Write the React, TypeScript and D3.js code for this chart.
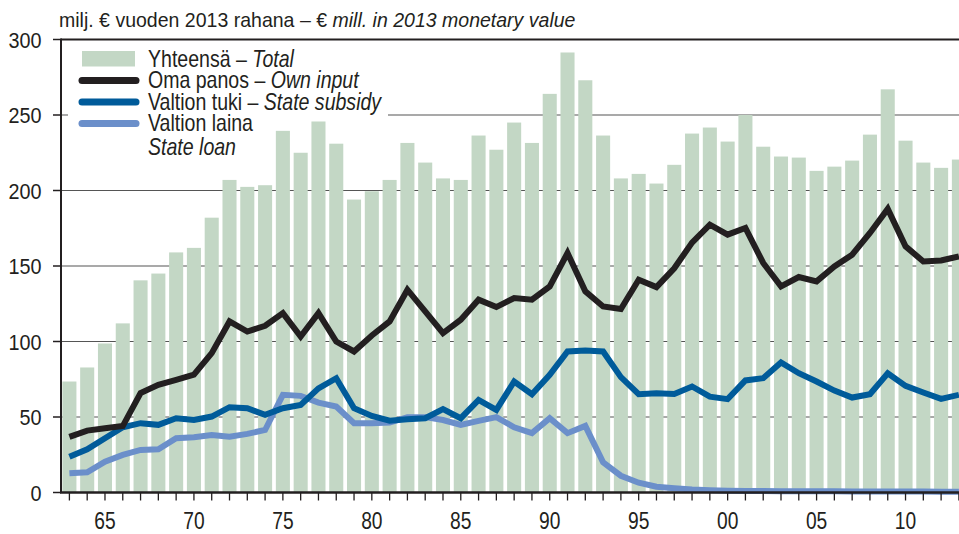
import React from 'react'
import * as d3 from 'd3'

const width = 959
const height = 534

const years = d3.range(1963, 2014)

const total = [
  73.5, 82.8, 98.7, 112, 140.5, 145, 159, 162, 182, 207,
  202.4, 203.5, 239.5, 225, 245.7, 231, 194, 199.5, 207, 231.5,
  218.5, 208, 207, 236.4, 227, 245, 231.5, 264, 291.4, 273,
  236.4, 208, 211, 204.6, 217, 237.7, 241.7, 232.4, 250, 229,
  222.5, 221.8, 213, 215.8, 219.8, 237, 267, 233, 218.5, 215, 220.5
]

const ownInput = [
  36.8, 41, 42.5, 44, 65.8, 71.3, 74.6, 78, 92.3, 113.3,
  106.6, 110.4, 118.8, 103.3, 118.8, 100, 93.4, 104, 113.3, 134.3,
  120, 105.6, 114.4, 127.7, 122.8, 128.8, 127.7, 136.5, 158.6, 133.2,
  123.2, 121.5, 140.9, 136, 148.5, 165.5, 177.4, 170.8, 175.2, 152,
  136.5, 142.7, 139.8, 149.7, 157.5, 171.9, 187.8, 163, 153, 153.7, 156.4
]

const subsidy = [
  23.7, 28.6, 35.9, 43.2, 45.9, 44.8, 49.2, 48, 50.3, 56.5,
  55.8, 51.4, 55.8, 58, 69, 75.7, 55.8, 50.7, 47.6, 48.5,
  49.2, 55.2, 49.2, 61.3, 54.7, 73.5, 65.1, 77.9, 93.4, 94,
  93.4, 76.4, 65.1, 65.8, 65.3, 70.2, 63.5, 61.8, 74.2, 75.7,
  86.1, 79, 73.5, 67.5, 62.9, 65.1, 79, 70.6, 66.2, 62, 64.7
]

const loan = [
  12.7, 13.4, 20.4, 24.9, 28.2, 28.6, 35.9, 36.6, 38.1, 37,
  38.8, 41.4, 64.7, 64, 59.5, 56.9, 45.9, 45.9, 46.3, 49.9,
  49.9, 48, 44.8, 47.4, 49.9, 43.2, 39.3, 49.2, 39.3, 44.1,
  20, 11.1, 6.5, 3.8, 2.8, 2, 1.5, 1.2, 1, 1,
  0.9, 0.9, 0.8, 0.8, 0.7, 0.7, 0.6, 0.6, 0.6, 0.5, 0.5
]

const yTicks = [0, 50, 100, 150, 200, 250, 300]
const xTickYears = [1965, 1970, 1975, 1980, 1985, 1990, 1995, 2000, 2005, 2010]

const colors = {
  bar: '#c3d7c5',
  own: '#231f20',
  subsidy: '#005b9a',
  loan: '#6b8fca',
  axis: '#231f20',
  grid: '#555555',
  text: '#231f20'
}

const font = '"Liberation Sans", Arial, sans-serif'

// narrow-looking text: regular font squeezed horizontally
const NText = ({ x, y, sx, size, anchor = 'start', italic = false, children }: any) => (
  <text transform={`translate(${x},${y}) scale(${sx},1)`} textAnchor={anchor} fontSize={size}
    fill={colors.text} fontStyle={italic ? 'italic' : 'normal'}>
    {children}
  </text>
)

const App = () => {
  const left = 61
  const x = d3.scaleLinear().domain([1963, 2013]).range([69.4, 958.9])
  const y = d3.scaleLinear().domain([0, 300]).range([492.5, 39.5])
  const step = x(1964) - x(1963)
  const barW = step * 0.79

  const line = (vals: number[]) =>
    d3.line<number>()
      .x((d, i) => x(years[i]))
      .y(d => y(d))(vals) || ''

  const series = [
    { vals: loan, color: colors.loan },
    { vals: subsidy, color: colors.subsidy },
    { vals: ownInput, color: colors.own }
  ]

  const legend = [
    { kind: 'bar', color: colors.bar, a: 'Yhteensä – ', b: 'Total' },
    { kind: 'line', color: colors.own, a: 'Oma panos – ', b: 'Own input' },
    { kind: 'line', color: colors.subsidy, a: 'Valtion tuki – ', b: 'State subsidy' },
    { kind: 'line', color: colors.loan, a: 'Valtion laina', b: '' }
  ]

  return (
    <svg width={width} height={height} style={{ position: 'absolute', left: 0, top: 0, background: '#fff' }}
      fontFamily={font}>
      <NText x={59} y={27} sx={0.93} size={21}>
        milj. € vuoden 2013 rahana – € <tspan fontStyle="italic">mill. in 2013 monetary value</tspan>
      </NText>

      {/* gridlines */}
      {yTicks.filter(t => t > 0 && t < 300).map(t =>
        <line key={t} x1={left} x2={width} y1={y(t)} y2={y(t)} stroke={colors.grid} strokeWidth={1.2} />
      )}

      {/* legend background */}
      <rect x={68} y={44} width={320} height={126} fill="#fff" />

      {/* bars */}
      {total.map((v, i) =>
        <rect key={i} x={x(years[i]) - barW / 2} y={y(v)} width={barW} height={y(0) - y(v)} fill={colors.bar} />
      )}

      {/* lines */}
      {series.map((s, i) =>
        <path key={i} d={line(s.vals)} fill="none" stroke={s.color} strokeWidth={6} />
      )}

      {/* axes */}
      <line x1={left} x2={width} y1={y(300)} y2={y(300)} stroke={colors.axis} strokeWidth={2} />
      <line x1={left} x2={left} y1={y(300) - 1} y2={y(0)} stroke={colors.axis} strokeWidth={2} />
      <line x1={left - 1} x2={width} y1={y(0)} y2={y(0)} stroke={colors.axis} strokeWidth={2.5} />
      {yTicks.map(t =>
        <g key={t}>
          <line x1={left - 8} x2={left} y1={y(t)} y2={y(t)} stroke={colors.axis} strokeWidth={1.5} />
          <NText x={41.5} y={y(t) + 8} sx={0.88} size={22.5} anchor="end">{t}</NText>
        </g>
      )}
      {years.map(yr =>
        <line key={yr} x1={x(yr)} x2={x(yr)} y1={y(0)} y2={y(0) + 8} stroke={colors.axis} strokeWidth={1.3} />
      )}
      {xTickYears.map(yr =>
        <NText key={yr} x={x(yr)} y={528.8} sx={0.8} size={24} anchor="middle">
          {String(yr % 100).padStart(2, '0')}
        </NText>
      )}

      {/* legend */}
      {legend.map((l, i) => {
        const base = 66.7 + i * 21.4
        return (
          <g key={i}>
            {l.kind === 'bar'
              ? <rect x={82} y={51} width={53} height={15.5} fill={l.color} />
              : <line x1={82} x2={136} y1={base - 7.5} y2={base - 7.5} stroke={l.color} strokeWidth={7} strokeLinecap="round" />}
            <NText x={148} y={base} sx={0.85} size={23}>
              {l.a}<tspan fontStyle="italic">{l.b}</tspan>
            </NText>
          </g>
        )
      })}
      <NText x={148} y={155} sx={0.85} size={23} italic>State loan</NText>
    </svg>
  )
}

export default App
